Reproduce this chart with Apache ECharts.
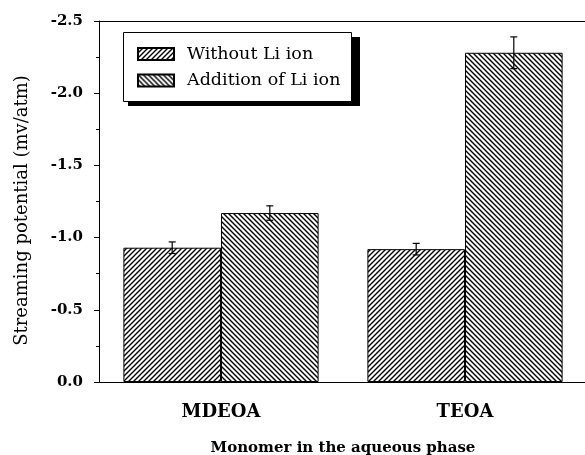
<!DOCTYPE html>
<html>
<head>
<meta charset="utf-8">
<script src="https://cdn.jsdelivr.net/npm/echarts@6/dist/echarts.min.js"></script>
<style>html,body{margin:0;padding:0;background:#fff}#c{width:585px;height:455px}</style>
</head>
<body>
<div id="c"></div>
<script>
var categories = ['MDEOA', 'TEOA'];
var withoutLi = [-0.93, -0.92];
var additionLi = [-1.17, -2.28];
var errWithout = [0.04, 0.04];
var errAddition = [0.05, 0.11];
var yTicks = [-2.5, -2.0, -1.5, -1.0, -0.5, 0.0];

function hatch(forward) {
  var s = 5;
  var c = document.createElement('canvas');
  c.width = s; c.height = s;
  var g = c.getContext('2d');
  g.fillStyle = '#fff'; g.fillRect(0, 0, s, s);
  g.strokeStyle = '#000'; g.lineWidth = 1.4;
  g.beginPath();
  if (forward) {
    g.moveTo(-1, s + 1); g.lineTo(s + 1, -1);
    g.moveTo(-1, 1); g.lineTo(1, -1);
    g.moveTo(s - 1, s + 1); g.lineTo(s + 1, s - 1);
  } else {
    g.moveTo(-1, -1); g.lineTo(s + 1, s + 1);
    g.moveTo(-1, s - 1); g.lineTo(1, s + 1);
    g.moveTo(s - 1, -1); g.lineTo(s + 1, 1);
  }
  g.stroke();
  return { image: c, repeat: 'repeat' };
}

var serif = 'DejaVu Serif';
var errData = [];
for (var i = 0; i < categories.length; i++) {
  errData.push([i, withoutLi[i], errWithout[i], -0.2]);
  errData.push([i, additionLi[i], errAddition[i], 0.2]);
}

var chart = echarts.init(document.getElementById('c'), null, { renderer: 'canvas' });
chart.setOption({
  animation: false,
  backgroundColor: '#fff',
  grid: {
    left: 99, right: -2, top: 21, bottom: 73, containLabel: false, outerBoundsMode: 'none',
    show: false
  },
  graphic: [
    { type: 'rect', z: 50, shape: { x: 128, y: 37, width: 232, height: 69 }, style: { fill: '#000' } },
    { type: 'rect', z: 51, shape: { x: 123.5, y: 32.5, width: 228, height: 69 }, style: { fill: '#fff', stroke: '#000', lineWidth: 1 } }
  ],
  legend: {
    z: 60,
    orient: 'vertical', left: 137, top: 44,
    itemWidth: 36, itemHeight: 12, itemGap: 6.5,
    padding: 0,
    icon: 'rect',
    textStyle: { fontFamily: serif, fontSize: 17.5, lineHeight: 20, color: '#000', padding: [0, 0, 0, 8] },
    data: ['Without Li ion', 'Addition of Li ion']
  },
  xAxis: [
    {
      type: 'category', data: categories,
      name: 'Monomer in the aqueous phase', nameLocation: 'middle', nameGap: 59,
      nameTextStyle: { fontFamily: serif, fontSize: 15, fontWeight: 'bold', color: '#000' },
      axisLine: { lineStyle: { color: '#000', width: 1 } },
      axisTick: { show: false },
      axisLabel: { margin: 21, fontFamily: serif, fontSize: 18, fontWeight: 'bold', color: '#000' }
    },
    {
      type: 'category', data: categories, position: 'top',
      axisLine: { show: true, lineStyle: { color: '#000', width: 1 } },
      axisTick: { show: false }, axisLabel: { show: false }, splitLine: { show: false }
    }
  ],
  yAxis: {
    type: 'value', min: -2.5, max: 0, interval: 0.5, inverse: true,
    name: 'Streaming potential (mv/atm)', nameLocation: 'middle', nameGap: 68,
    nameTextStyle: { fontFamily: serif, fontSize: 18, color: '#000', padding: [0, 18, 0, 0] },
    axisLine: { show: true, lineStyle: { color: '#000', width: 1 } },
    axisTick: { show: true, inside: false, length: 5, lineStyle: { color: '#000' } },
    minorTick: { show: true, splitNumber: 2, length: 3, lineStyle: { color: '#000' } },
    splitLine: { show: false },
    axisLabel: {
      margin: 16, fontFamily: serif, fontSize: 15, fontWeight: 'bold', color: '#000',
      formatter: function (v) {
        for (var k = 0; k < yTicks.length; k++) if (Math.abs(yTicks[k] - v) < 1e-6) return yTicks[k].toFixed(1);
        return '';
      }
    }
  },
  series: [
    {
      name: 'Without Li ion', type: 'bar', data: withoutLi, barWidth: '40%', barGap: '0%',
      itemStyle: { color: hatch(true), borderColor: '#000', borderWidth: 1 }
    },
    {
      name: 'Addition of Li ion', type: 'bar', data: additionLi, barWidth: '40%', barGap: '0%',
      itemStyle: { color: hatch(false), borderColor: '#000', borderWidth: 1 }
    },
    {
      type: 'custom', z: 10, data: errData, encode: { x: 0, y: 1 },
      renderItem: function (params, api) {
        var cat = api.value(0), val = api.value(1), err = api.value(2), off = api.value(3);
        var band = api.size([1, 0])[0];
        var x = api.coord([cat, val])[0] + off * band;
        var yTop = api.coord([cat, val - err])[1];
        var yBot = api.coord([cat, val + err])[1];
        var w = 3.5;
        var st = { stroke: '#000', lineWidth: 1.2 };
        return {
          type: 'group',
          children: [
            { type: 'line', shape: { x1: x, y1: yTop, x2: x, y2: yBot }, style: st },
            { type: 'line', shape: { x1: x - w, y1: yTop, x2: x + w, y2: yTop }, style: st },
            { type: 'line', shape: { x1: x - w, y1: yBot, x2: x + w, y2: yBot }, style: st }
          ]
        };
      }
    }
  ]
});
</script>
</body>
</html>
